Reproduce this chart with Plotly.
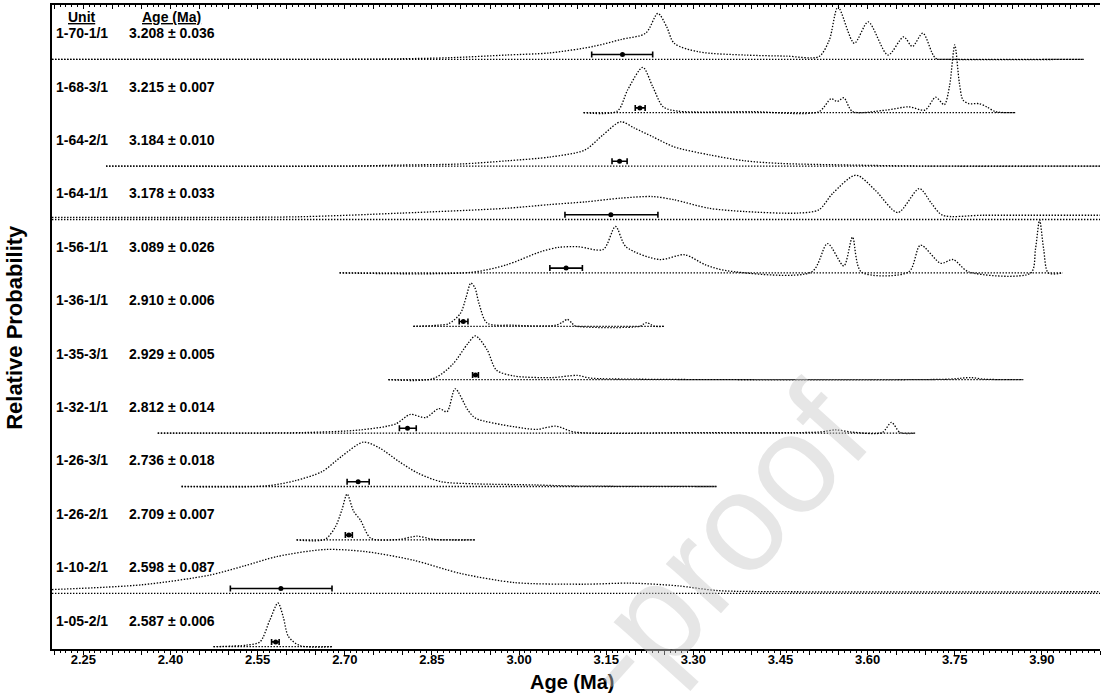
import numpy as np
import plotly.graph_objects as go

# ---------------- data ----------------
UNITS = ["1-70-1/1", "1-68-3/1", "1-64-2/1", "1-64-1/1", "1-56-1/1", "1-36-1/1",
         "1-35-3/1", "1-32-1/1", "1-26-3/1", "1-26-2/1", "1-10-2/1", "1-05-2/1"]
AGE_TEXT = ["3.208 ± 0.036", "3.215 ± 0.007", "3.184 ± 0.010", "3.178 ± 0.033",
            "3.089 ± 0.026", "2.910 ± 0.006", "2.929 ± 0.005", "2.812 ± 0.014",
            "2.736 ± 0.018", "2.709 ± 0.007", "2.598 ± 0.087", "2.587 ± 0.006"]

AGE_1_70_1 = [2.196, 2.700, 2.797, 2.881, 2.978, 3.053, 3.127, 3.175, 3.218, 3.239, 3.254,
              3.267, 3.309, 3.388, 3.460, 3.516, 3.534, 3.549, 3.577, 3.601, 3.635, 3.662,
              3.677, 3.695, 3.717, 3.740, 3.972]
PROB_1_70_1 = [0, 0, 0.01, 0.03, 0.08, 0.12, 0.24, 0.37, 0.49, 0.86, 0.61,
               0.30, 0.14, 0.08, 0.06, 0.05, 0.36, 0.98, 0.30, 0.70, 0.08, 0.42,
               0.24, 0.49, 0.02, 0, 0]

AGE_1_68_3 = [3.111, 3.169, 3.187, 3.213, 3.230, 3.248, 3.273, 3.400, 3.516, 3.537, 3.548,
              3.559, 3.574, 3.632, 3.671, 3.699, 3.717, 3.732, 3.741, 3.750, 3.758, 3.764,
              3.774, 3.792, 3.805, 3.820, 3.854]
PROB_1_68_3 = [0, 0.03, 0.43, 0.85, 0.49, 0.11, 0.03, 0.02, 0.02, 0.26, 0.21,
               0.28, 0.02, 0.05, 0.11, 0.05, 0.29, 0.15, 0.50, 1.27, 0.55, 0.24,
               0.17, 0.17, 0.11, 0.02, 0]

AGE_1_64_2 = [2.289, 2.700, 2.800, 2.900, 2.980, 3.053, 3.113, 3.144, 3.175, 3.199, 3.230,
              3.267, 3.328, 3.388, 3.450, 3.570, 3.700, 4.020]
PROB_1_64_2 = [0, 0, 0.02, 0.04, 0.10, 0.17, 0.30, 0.58, 0.83, 0.71, 0.55,
               0.36, 0.21, 0.10, 0.05, 0.02, 0, 0]

AGE_1_64_1 = [2.196, 2.615, 2.797, 2.978, 3.053, 3.114, 3.175, 3.230, 3.267, 3.327, 3.388,
              3.479, 3.516, 3.540, 3.580, 3.613, 3.652, 3.689, 3.710, 3.729, 3.800, 4.020]
PROB_1_64_1 = [0.04, 0.05, 0.12, 0.21, 0.28, 0.33, 0.40, 0.43, 0.37, 0.21, 0.15,
               0.12, 0.18, 0.49, 0.83, 0.55, 0.13, 0.58, 0.30, 0.08, 0.08, 0.08]

AGE_1_56_1 = [2.691, 2.917, 2.978, 3.038, 3.069, 3.102, 3.145, 3.166, 3.184, 3.242, 3.285,
              3.321, 3.358, 3.504, 3.531, 3.559, 3.574, 3.589, 3.671, 3.691, 3.726, 3.747,
              3.774, 3.881, 3.889, 3.896, 3.903, 3.911, 3.936]
PROB_1_56_1 = [0, 0.01, 0.15, 0.40, 0.48, 0.49, 0.44, 0.87, 0.49, 0.25, 0.34,
               0.15, 0.04, 0.02, 0.55, 0.13, 0.67, 0.02, 0.02, 0.52, 0.18, 0.25,
               0.02, 0, 0.45, 0.99, 0.45, 0, 0]

AGE_1_36_1 = [2.818, 2.860, 2.879, 2.899, 2.909, 2.917, 2.924, 2.931, 2.945, 2.990, 3.063,
              3.075, 3.083, 3.091, 3.096, 3.208, 3.214, 3.220, 3.227, 3.234, 3.251]
PROB_1_36_1 = [0, 0.02, 0.05, 0.24, 0.55, 0.81, 0.72, 0.43, 0.06, 0.02, 0.02,
               0.08, 0.13, 0.06, 0.01, 0, 0.04, 0.07, 0.03, 0, 0]

AGE_1_35_3 = [2.775, 2.852, 2.885, 2.912, 2.925, 2.945, 2.961, 2.991, 3.057, 3.100, 3.123,
              3.200, 3.740, 3.777, 3.800, 3.868]
PROB_1_35_3 = [0, 0.02, 0.28, 0.68, 0.82, 0.56, 0.18, 0.07, 0.04, 0.08, 0.03,
               0.01, 0.01, 0.04, 0.01, 0]

AGE_1_32_1 = [2.378, 2.628, 2.727, 2.787, 2.813, 2.839, 2.862, 2.876, 2.890, 2.912, 2.925,
              2.991, 3.030, 3.063, 3.096, 3.300, 3.517, 3.545, 3.572, 3.625, 3.641, 3.656,
              3.682]
PROB_1_32_1 = [0, 0.01, 0.06, 0.17, 0.35, 0.29, 0.46, 0.40, 0.83, 0.43, 0.28,
               0.12, 0.07, 0.13, 0.02, 0.01, 0.02, 0.06, 0.02, 0.01, 0.20, 0.01,
               0]

AGE_1_26_3 = [2.419, 2.563, 2.615, 2.661, 2.694, 2.732, 2.760, 2.793, 2.826, 2.866, 2.925,
              3.024, 3.090, 3.340]
PROB_1_26_3 = [0, 0.01, 0.11, 0.28, 0.56, 0.83, 0.72, 0.47, 0.25, 0.09, 0.05,
               0.03, 0.01, 0]

AGE_1_26_2 = [2.617, 2.666, 2.684, 2.695, 2.704, 2.715, 2.727, 2.745, 2.794, 2.824, 2.853,
              2.925]
PROB_1_26_2 = [0, 0.01, 0.25, 0.56, 0.86, 0.54, 0.37, 0.03, 0.01, 0.07, 0.01,
               0]

AGE_1_10_2 = [2.196, 2.351, 2.467, 2.526, 2.584, 2.666, 2.736, 2.818, 2.900, 2.993, 3.110,
              3.192, 3.273, 3.343, 3.460, 4.020]
PROB_1_10_2 = [0.07, 0.16, 0.34, 0.51, 0.69, 0.82, 0.78, 0.62, 0.37, 0.20, 0.17,
               0.19, 0.14, 0.05, 0.03, 0.03]

AGE_1_05_2 = [2.474, 2.531, 2.554, 2.571, 2.585, 2.594, 2.603, 2.623, 2.678]
PROB_1_05_2 = [0, 0.03, 0.09, 0.50, 0.82, 0.56, 0.19, 0.02, 0]

# weighted-mean error bars (Ma), top row first
EB_LOW = [3.125, 3.200, 3.160, 3.079, 3.053, 2.897, 2.920, 2.794, 2.704, 2.701, 2.503, 2.574]
EB_MID = [3.178, 3.208, 3.173, 3.158, 3.081, 2.904, 2.925, 2.808, 2.723, 2.707, 2.590, 2.581]
EB_HIGH = [3.230, 3.217, 3.186, 3.239, 3.109, 2.912, 2.930, 2.823, 2.742, 2.713, 2.678, 2.587]

TICK_LABELS = ["2.25", "2.40", "2.55", "2.70", "2.85", "3.00", "3.15",
               "3.30", "3.45", "3.60", "3.75", "3.90"]

CURVES = [(AGE_1_70_1, PROB_1_70_1), (AGE_1_68_3, PROB_1_68_3), (AGE_1_64_2, PROB_1_64_2),
          (AGE_1_64_1, PROB_1_64_1), (AGE_1_56_1, PROB_1_56_1), (AGE_1_36_1, PROB_1_36_1),
          (AGE_1_35_3, PROB_1_35_3), (AGE_1_32_1, PROB_1_32_1), (AGE_1_26_3, PROB_1_26_3),
          (AGE_1_26_2, PROB_1_26_2), (AGE_1_10_2, PROB_1_10_2), (AGE_1_05_2, PROB_1_05_2)]

# ---------------- figure ----------------
FONT = "Liberation Sans, Arial, Helvetica, sans-serif"
DOT = "1.4px,1.6px"
LINE_COL = "#000"
EB_OFFSET = 0.09
n = len(UNITS)

fig = go.Figure()
for i, (ages, probs) in enumerate(CURVES):
    base = n - 1 - i
    fig.add_trace(go.Scatter(
        x=[min(ages), max(ages)], y=[base, base], mode="lines", xaxis="x2",
        line=dict(color=LINE_COL, width=1.3, dash=DOT), hoverinfo="skip", showlegend=False))
    fig.add_trace(go.Scatter(
        x=ages, y=[base + p for p in probs], mode="lines",
        line=dict(color=LINE_COL, width=1.3, dash=DOT, shape="spline", smoothing=0.8),
        showlegend=False, name=UNITS[i]))
    fig.add_trace(go.Scatter(
        x=[EB_MID[i]], y=[base + EB_OFFSET], mode="markers",
        marker=dict(color="black", size=5),
        error_x=dict(type="data", symmetric=False,
                     array=[EB_HIGH[i] - EB_MID[i]], arrayminus=[EB_MID[i] - EB_LOW[i]],
                     color="black", thickness=1.6, width=3),
        showlegend=False, hoverinfo="skip"))

annotations = []
label_font = dict(family=FONT, size=14, color="black", weight="bold")
for i in range(n):
    base = n - 1 - i
    annotations.append(dict(x=0.0291, y=base + 0.49, xref="paper", yref="y", text=UNITS[i],
                            showarrow=False, xanchor="center", yanchor="middle", font=label_font))
    annotations.append(dict(x=0.1143, y=base + 0.49, xref="paper", yref="y", text=AGE_TEXT[i],
                            showarrow=False, xanchor="center", yanchor="middle", font=label_font))
annotations.append(dict(x=0.0291, y=n - 1 + 0.80, xref="paper", yref="y", text="<u>Unit</u>",
                        showarrow=False, xanchor="center", yanchor="middle", font=label_font))
annotations.append(dict(x=0.1143, y=n - 1 + 0.80, xref="paper", yref="y", text="<u>Age (Ma)</u>",
                        showarrow=False, xanchor="center", yanchor="middle", font=label_font))
annotations.append(dict(x=0.496, y=-0.0505, xref="paper", yref="paper", text="Age (Ma)",
                        showarrow=False, xanchor="center", yanchor="middle",
                        font=dict(family=FONT, size=20, color="black", weight="bold")))
annotations.append(dict(x=-0.0364, y=0.5, xref="paper", yref="paper", text="Relative Probability",
                        showarrow=False, xanchor="center", yanchor="middle", textangle=-90,
                        font=dict(family=FONT, size=22, color="black", weight="bold")))
# watermark
annotations.append(dict(x=0.6355, y=0.1615, xref="paper", yref="paper", text="-proof",
                        showarrow=False, xanchor="center", yanchor="middle", textangle=-48,
                        font=dict(family=FONT, size=140, color="rgba(200,200,200,0.45)")))

tickvals = np.round(np.arange(2.20, 4.0001, 0.05), 2)
ticktext = [f"{v:.2f}" if f"{v:.2f}" in TICK_LABELS else "" for v in tickvals]

axis_common = dict(range=[2.196, 4.0], showgrid=False, zeroline=False, showline=True,
                   linecolor="black", linewidth=1.5, tickmode="array", tickvals=tickvals,
                   tickcolor="black", tickwidth=1.2)

fig.update_layout(
    width=1104, height=695,
    margin=dict(l=52, r=4, t=5, b=46),
    paper_bgcolor="white", plot_bgcolor="white",
    showlegend=False,
    xaxis=dict(**axis_common, ticktext=ticktext, ticks="outside", ticklen=4,
               ticklabelstandoff=-6,
               minor=dict(tickmode="linear", tick0=2.20, dtick=0.01, ticklen=2, ticks="outside",
                          tickcolor="black", tickwidth=1, showgrid=False),
               tickfont=dict(family=FONT, size=13, color="black", weight="bold")),
    xaxis2=dict(**axis_common, overlaying="x", side="top", matches="x", anchor="y",
                ticks="inside", ticklen=4, showticklabels=False,
                minor=dict(tickmode="linear", tick0=2.20, dtick=0.01, ticklen=2, ticks="inside",
                           tickcolor="black", tickwidth=1, showgrid=False)),
    yaxis=dict(range=[-0.043, 12.017], showgrid=False, zeroline=False, showline=True,
               linecolor="black", linewidth=1.5, showticklabels=False, ticks=""),
    annotations=annotations,
)

fig.write_html("out.html", config={"displayModeBar": False},
               post_script="document.body.style.margin='0';document.body.style.padding='0';")
